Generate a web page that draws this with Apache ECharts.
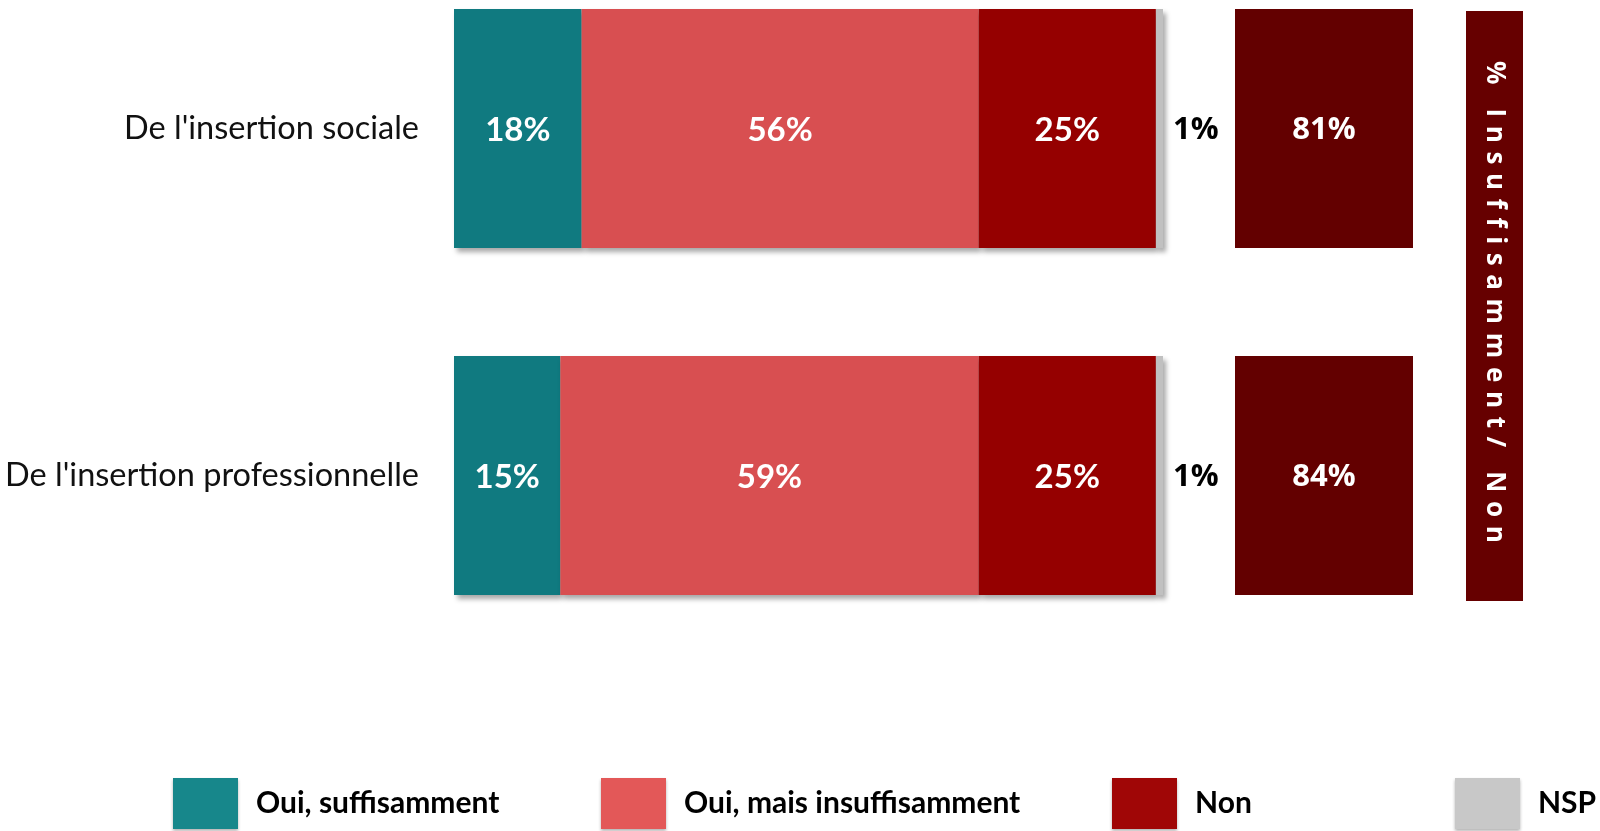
<!DOCTYPE html>
<html>
<head>
<meta charset="utf-8">
<script src="https://cdn.jsdelivr.net/npm/echarts@6/dist/echarts.min.js"></script>
<style>
  html, body { margin: 0; padding: 0; background: #fff; }
  #main { width: 1600px; height: 831px; }
</style>
</head>
<body>
<div id="main"></div>
<script>
    var categories = ["De l'insertion sociale", "De l'insertion professionnelle"];
    var ouiSuffisamment = [18, 15];
    var ouiInsuffisamment = [56, 59];
    var non = [25, 25];
    var nsp = [1, 1];
    var netInsuffisantNon = [81, 84];

    var myChart = echarts.init(document.getElementById('main'));

    var barFont = 'Lato, "Open Sans", sans-serif';
    var boldFont = '"Open Sans", Lato, sans-serif';

    function segment(name, data, color) {
        return {
            name: name,
            type: 'bar',
            stack: 'total',
            xAxisIndex: 0,
            yAxisIndex: 0,
            barWidth: 239,
            data: data,
            itemStyle: {
                color: color,
                shadowColor: 'rgba(0,0,0,0.35)',
                shadowBlur: 5,
                shadowOffsetX: 3,
                shadowOffsetY: 4
            },
            label: {
                show: true,
                position: 'inside',
                formatter: '{c}%',
                color: '#fff',
                fontFamily: barFont,
                fontWeight: 'bold',
                fontSize: 33,
                offset: [0, 2]
            }
        };
    }

    function legendItem(left, name, color) {
        return {
            left: left,
            top: 778,
            padding: 0,
            itemWidth: 65,
            itemHeight: 51,
            selectedMode: false,
            icon: 'rect',
            data: [{
                name: name,
                itemStyle: {
                    color: color,
                    shadowColor: 'rgba(0,0,0,0.3)',
                    shadowBlur: 3,
                    shadowOffsetY: 2
                }
            }],
            textStyle: {
                fontFamily: barFont,
                fontWeight: 'bold',
                fontSize: 30,
                color: '#000',
                padding: [0, 0, 0, 13]
            }
        };
    }

    var nspSeries = segment('NSP', nsp, '#c0c0c0');
    nspSeries.label = {
        show: true,
        position: 'right',
        distance: 10,
        offset: [0, 2],
        formatter: '{c}%',
        color: '#000',
        fontFamily: boldFont,
        fontWeight: 'bold',
        fontSize: 31
    };

    var option = {
        animation: false,
        grid: [
            { left: 454, width: 709, top: 128.5, height: 347 },
            { left: 1235, width: 178, top: 128.5, height: 347 }
        ],
        xAxis: [
            { gridIndex: 0, type: 'value', min: 0, max: 100, show: false },
            { gridIndex: 1, type: 'value', min: 0, max: 100, show: false }
        ],
        yAxis: [
            {
                gridIndex: 0,
                type: 'category',
                data: categories,
                inverse: true,
                boundaryGap: false,
                axisLine: { show: false },
                axisTick: { show: false },
                axisLabel: {
                    margin: 35,
                    fontFamily: barFont,
                    fontSize: 32.5,
                    color: '#111'
                }
            },
            {
                gridIndex: 1,
                type: 'category',
                data: categories,
                inverse: true,
                boundaryGap: false,
                show: false
            }
        ],
        legend: [
            legendItem(173, 'Oui, suffisamment', '#17878b'),
            legendItem(601, 'Oui, mais insuffisamment', '#e35858'),
            legendItem(1112, 'Non', '#a00606'),
            legendItem(1455, 'NSP', '#c8c8c8')
        ],
        series: [
            segment('Oui, suffisamment', ouiSuffisamment, '#107a80'),
            segment('Oui, mais insuffisamment', ouiInsuffisamment, '#d84f51'),
            segment('Non', non, '#950000'),
            nspSeries,
            {
                name: 'net',
                type: 'bar',
                xAxisIndex: 1,
                yAxisIndex: 1,
                barWidth: 239,
                // full-width cell, the figure shown is the net value
                data: netInsuffisantNon.map(function () { return 100; }),
                itemStyle: { color: '#630000' },
                label: {
                    show: true,
                    position: 'inside',
                    offset: [0, 2],
                    formatter: function (p) { return netInsuffisantNon[p.dataIndex] + '%'; },
                    color: '#fff',
                    fontFamily: boldFont,
                    fontWeight: 'bold',
                    fontSize: 31
                }
            }
        ],
        graphic: [
            {
                type: 'rect',
                left: 1466,
                top: 11,
                shape: { width: 57, height: 590 },
                style: { fill: '#660000' }
            },
            {
                type: 'text',
                x: 1494,
                y: 302,
                rotation: -Math.PI / 2,
                style: {
                    text: '% Insuffisamment/ Non'.split('').join('\u2009\u2009'),
                    fill: '#fff',
                    font: 'bold 26px "Open Sans", sans-serif',
                    align: 'center',
                    verticalAlign: 'middle'
                }
            }
        ]
    };

    myChart.setOption(option);
</script>
</body>
</html>
